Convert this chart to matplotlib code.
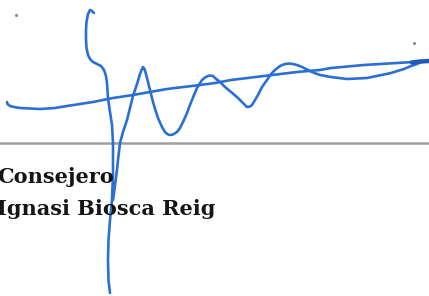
import matplotlib
matplotlib.use("Agg")
import matplotlib.pyplot as plt

W, H = 429, 296

# Signature strokes (image pixel coordinates)
stroke_a_x = [94, 92, 90, 88, 86.5, 86, 86, 86.5, 88, 90, 93, 97, 101, 104, 106, 107, 108, 110, 112, 113, 113, 112, 110, 108.5, 108, 108.5, 110]
stroke_a_y = [13, 11, 10, 14, 22, 30, 40, 48, 55, 59, 62, 64, 66, 70, 76, 83, 98, 112, 125, 143, 175, 200, 220, 240, 260, 280, 293]

stroke_b_x = [113, 115, 117, 118, 120, 123, 127, 133, 137, 140, 142, 143, 144.5, 146, 148, 151, 153, 156, 158,
              162, 165, 168, 170, 173, 177, 180, 183, 187, 190, 194, 197, 202, 205, 208, 210, 213, 215,
              220, 225, 231, 238, 243, 247, 250, 252, 255, 258, 262, 267, 271, 275, 280, 285, 289, 293,
              297, 302, 307, 312, 320, 331, 347, 367, 391, 404, 411, 417, 421, 429]
stroke_b_y = [200, 185, 170, 160, 143, 132, 120, 96, 84, 74, 69, 67, 69, 74, 82, 94, 102, 112, 118,
              127, 132, 134.5, 135, 134.5, 132, 128, 122, 113, 105, 95, 88, 80, 77.5, 76, 75.5, 76, 78,
              82, 87, 92, 98, 103, 107, 106.5, 105, 100, 95, 87, 80, 74, 70, 66, 64, 63.5, 64,
              65, 67, 69.5, 72, 75, 77, 79, 78, 73, 69, 66, 64, 62, 61]

stroke_c_x = [7, 7.5, 10, 14, 20, 30, 40, 55, 67, 80, 93, 113, 133, 167, 200, 215, 231, 264, 297, 320, 331, 364, 397, 429]
stroke_c_y = [102, 104, 106, 107, 108, 108.5, 109, 108, 106, 104, 102, 98, 95, 89, 85, 83, 80, 76, 72, 70, 68, 65, 63, 61]

# heavier ink blot at the right end of the signature
blot_x = [412, 420, 429]
blot_y = [62.5, 61.5, 61]

rule_y = 143
line1 = "Consejero"
line2 = "Ignasi Biosca Reig"

fig = plt.figure(figsize=(W / 100, H / 100), dpi=100)
ax = fig.add_axes([0, 0, 1, 1])
ax.set_xlim(0, W)
ax.set_ylim(H, 0)
ax.axis("off")

ax.axhline(rule_y, color="#9e9e9e", lw=1.8)

ax.text(-3, 183, line1, family="DejaVu Serif", fontweight="bold", fontsize=15,
        color="#151515", va="baseline", ha="left")
ax.text(-3, 215, line2, family="DejaVu Serif", fontweight="bold", fontsize=15,
        color="#151515", va="baseline", ha="left")

blue = "#2b6fd4"
for xs, ys in [(stroke_a_x, stroke_a_y), (stroke_b_x, stroke_b_y), (stroke_c_x, stroke_c_y)]:
    ax.plot(xs, ys, color=blue, lw=1.9, solid_capstyle="round", solid_joinstyle="round")
ax.plot(blot_x, blot_y, color="#2459b8", lw=3.2, solid_capstyle="round")

ax.plot([16, 414], [15, 43], ls="none", marker="o", ms=1.2, color="#888888")

fig.savefig("out.png", dpi=100)
